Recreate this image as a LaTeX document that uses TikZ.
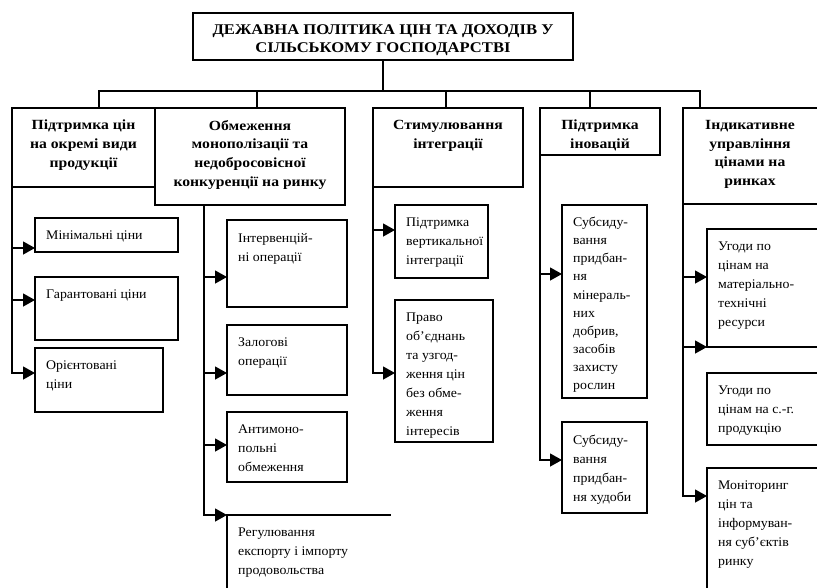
\documentclass[tikz,border=0pt]{standalone}
\usepackage{fontspec}
\setmainfont{Liberation Serif}[FakeStretch=1.05]
\newfontfamily\hdfont{Liberation Serif}[FakeStretch=1.12]
\usetikzlibrary{arrows.meta,calc}
\newcommand\mkbox[5]{\node[boxst, minimum width=#4, minimum height=#5] (#1) at (#2,#3) {};}
\newcommand\tx[3]{\node[txtst] (#1) at ([xshift=11pt,yshift=-13pt]#2.north west) {#3};}
\begin{document}
\begin{tikzpicture}[x=1pt,y=-1pt,
  ln/.style={line width=1.3pt, black, line cap=rect},
  boxst/.style={draw, line width=1.3pt, rectangle, inner sep=0pt, outer sep=0pt, anchor=north west},
  nobox/.style={rectangle, inner sep=0pt, outer sep=0pt, anchor=north west},
  txtst/.style={inner sep=0pt, anchor=north west, align=left, font=\fontsize{13.2}{18.9}\selectfont},
  hdst/.style={inner sep=0pt, anchor=north, align=center, font=\hdfont\bfseries\fontsize{14}{18.7}\selectfont},
  arr/.style={line width=1.3pt, black, -{Triangle[length=12pt,width=13pt]}},
]
\useasboundingbox (0,0) rectangle (817,587);
% title and headers
\mkbox{title}{193}{13}{380}{47}
\node[hdst, font=\hdfont\bfseries\fontsize{14.8}{18}\selectfont] (titlet) at ([yshift=-11pt]title.north) {ДЕЖАВНА ПОЛІТИКА ЦІН ТА ДОХОДІВ У\\СІЛЬСЬКОМУ ГОСПОДАРСТВІ};
\mkbox{h1}{12}{108}{143}{79}
\mkbox{h2}{155}{108}{190}{97}
\mkbox{h3}{373}{108}{150}{79}
\mkbox{h4}{540}{108}{120}{47}
\mkbox{h5}{683}{108}{147}{96}
\node[hdst] (h1t) at ([yshift=-12pt]h1.north) {Підтримка цін\\на окремі види\\продукції};
\node[hdst] (h2t) at ([yshift=-12pt]h2.north) {Обмеження\\монополізації та\\недобросовісної\\конкуренції на ринку};
\node[hdst] (h3t) at ([yshift=-12pt]h3.north) {Стимулювання\\інтеграції};
\node[hdst] (h4t) at ([yshift=-12pt]h4.north) {Підтримка\\іновацій};
\node[hdst] (h5t) at ([xshift=67pt,yshift=-12pt]h5.north west) {Індикативне\\управління\\цінами на\\ринках};
% sub boxes
\mkbox{s11}{35}{218}{143}{34}
\mkbox{s12}{35}{277}{143}{63}
\mkbox{s13}{35}{348}{128}{64}
\mkbox{s21}{227}{220}{120}{87}
\mkbox{s22}{227}{325}{120}{70}
\mkbox{s23}{227}{412}{120}{70}
\node[nobox, minimum width=163, minimum height=85] (s24) at (227,515) {};
\draw[ln] (s24.south west) -- (s24.north west) -- (s24.north east);
\mkbox{s31}{395}{205}{93}{73}
\mkbox{s32}{395}{300}{98}{142}
\mkbox{s41}{562}{205}{85}{193}
\mkbox{s42}{562}{422}{85}{91}
\mkbox{s51}{707}{229}{123}{118}
\mkbox{s52}{707}{373}{123}{72}
\mkbox{s53}{707}{468}{123}{132}
\tx{s11t}{s11}{Мінімальні ціни}
\tx{s12t}{s12}{Гарантовані ціни}
\tx{s13t}{s13}{Орієнтовані\\ціни}
\tx{s21t}{s21}{Інтервенцій-\\ні операції}
\tx{s22t}{s22}{Залогові\\операції}
\tx{s23t}{s23}{Антимоно-\\польні\\обмеження}
\tx{s24t}{s24}{Регулювання\\експорту і імпорту\\продовольства}
\tx{s31t}{s31}{Підтримка\\вертикальної\\інтеграції}
\tx{s32t}{s32}{Право\\об’єднань\\та узгод-\\ження цін\\без обме-\\ження\\інтересів}
\node[txtst, font=\fontsize{13.2}{18.1}\selectfont] (s41t) at ([xshift=11pt,yshift=-12pt]s41.north west) {Субсиду-\\вання\\придбан-\\ня\\мінераль-\\них\\добрив,\\засобів\\захисту\\рослин};
\tx{s42t}{s42}{Субсиду-\\вання\\придбан-\\ня худоби}
\tx{s51t}{s51}{Угоди по\\цінам на\\матеріально-\\технічні\\ресурси}
\tx{s52t}{s52}{Угоди по\\цінам на с.-г.\\продукцію}
\tx{s53t}{s53}{Моніторинг\\цін та\\інформуван-\\ня суб’єктів\\ринку}
% top connectors
\coordinate (bL) at (99,91);
\coordinate (bR) at (700,91);
\coordinate (d2) at (257,91);
\coordinate (d3) at (446,91);
\coordinate (d4) at (590,91);
\draw[ln] (title.south) -- (title.south |- bL);
\draw[ln] (bL) -- (bR);
\draw[ln] (bL) -- (bL |- h1.north);
\draw[ln] (d2) -- (d2 |- h2.north);
\draw[ln] (d3) -- (d3 |- h3.north);
\draw[ln] (d4) -- (d4 |- h4.north);
\draw[ln] (bR) -- (bR |- h5.north);
% column 1
\coordinate (a11) at (12,248);
\coordinate (a12) at (12,300);
\coordinate (a13) at (12,373);
\draw[ln] (h1.south west) -- (a13);
\draw[arr] (a11) -- (a11 -| s11.west);
\draw[arr] (a12) -- (a12 -| s12.west);
\draw[arr] (a13) -- (a13 -| s13.west);
% column 2
\coordinate (a21) at (204,277);
\coordinate (a22) at (204,373);
\coordinate (a23) at (204,445);
\coordinate (a24) at (204,515);
\draw[ln] (a21 |- h2.south) -- (a24);
\draw[arr] (a21) -- (a21 -| s21.west);
\draw[arr] (a22) -- (a22 -| s22.west);
\draw[arr] (a23) -- (a23 -| s23.west);
\draw[arr] (a24) -- (a24 -| s24.west);
% column 3
\coordinate (a31) at (373,230);
\coordinate (a32) at (373,373);
\draw[ln] (h3.south west) -- (a32);
\draw[arr] (a31) -- (a31 -| s31.west);
\draw[arr] (a32) -- (a32 -| s32.west);
% column 4
\coordinate (a41) at (540,274);
\coordinate (a42) at (540,460);
\draw[ln] (h4.south west) -- (a42);
\draw[arr] (a41) -- (a41 -| s41.west);
\draw[arr] (a42) -- (a42 -| s42.west);
% column 5
\coordinate (a51) at (683,277);
\coordinate (a52) at (683,347);
\coordinate (a53) at (683,496);
\draw[ln] (h5.south west) -- (a53);
\draw[arr] (a51) -- (a51 -| s51.west);
\draw[arr] (a52) -- (a52 -| s51.west);
\draw[arr] (a53) -- (a53 -| s53.west);
\end{tikzpicture}
\end{document}
